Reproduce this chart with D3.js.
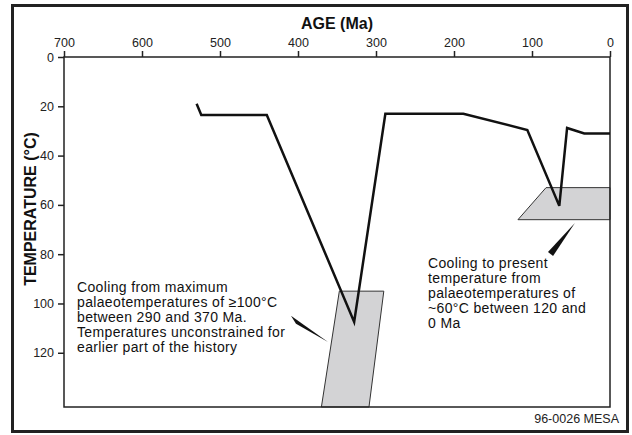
<!DOCTYPE html>
<html>
<head>
<meta charset="utf-8">
<script src="https://cdn.jsdelivr.net/npm/d3@7"></script>
<style>
  body { margin: 0; background: #fff; }
  svg { display: block; font-family: "Liberation Sans", Arial, sans-serif; }
  .tick-label { font-size: 12.5px; fill: #222; }
  .axis-title { font-size: 16px; font-weight: bold; fill: #111; }
  .note { font-size: 14px; letter-spacing: 0.35px; fill: #111; }
</style>
</head>
<body>
<div id="chart"></div>
<script>
var width = 632,
    height = 435;

// plot area
var margin = {top: 57, right: 22, bottom: 28, left: 64};

// data
var ageTicks = [700, 600, 500, 400, 300, 200, 100, 0];
var tempTicks = [0, 20, 40, 60, 80, 100, 120];

// thermal history path (age Ma, temperature C)
var pathAge  = [530, 524, 440, 328, 288, 188, 106, 65, 55, 33, 0];
var pathTemp = [19, 23.5, 23.5, 107.5, 23, 23, 29.6, 60.4, 28.8, 31, 31];

// constraint boxes
var boxOldAge  = [347, 290, 309, 370];
var boxOldTemp = [95, 95, 142, 142];
var boxNewAge  = [82, 0, 0, 118];
var boxNewTemp = [53, 53, 66, 66];

// callout wedges
var wedgeOldAge  = [409, 402.6, 361.5];
var wedgeOldTemp = [105, 108.2, 115.6];
var wedgeNewAge  = [79.5, 73, 45];
var wedgeNewTemp = [79.1, 80.7, 67.3];

var noteOld = ["Cooling from maximum",
               "palaeotemperatures of \u2265100\u00B0C",
               "between 290 and 370 Ma.",
               "Temperatures unconstrained for",
               "earlier part of the history"];
var noteNew = ["Cooling to present",
               "temperature from",
               "palaeotemperatures of",
               "~60\u00B0C between 120 and",
               "0 Ma"];

var svg = d3.select("#chart").append("svg")
  .attr("width", width)
  .attr("height", height);

//outer frame
svg.append("rect")
  .attr("x", 12.5).attr("y", 5.5)
  .attr("width", 615).attr("height", 426)
  .attr("fill", "none")
  .attr("stroke", "#222")
  .attr("stroke-width", 3);

var x = d3.scaleLinear()
  .domain([700, 0])
  .range([margin.left, width - margin.right]);
var y = d3.scaleLinear()
  .domain([0, 142])
  .range([margin.top, height - margin.bottom]);

function pts(ages, temps) {
  return ages.map(function(a, i) { return [x(a), y(temps[i])]; });
}

//grey constraint boxes
[[boxOldAge, boxOldTemp], [boxNewAge, boxNewTemp]].forEach(function(b) {
  svg.append("polygon")
    .attr("points", pts(b[0], b[1]).join(" "))
    .attr("fill", "#d3d3d5")
    .attr("stroke", "#333")
    .attr("stroke-width", 1);
});

//wedges
[[wedgeOldAge, wedgeOldTemp], [wedgeNewAge, wedgeNewTemp]].forEach(function(w) {
  svg.append("polygon")
    .attr("points", pts(w[0], w[1]).join(" "))
    .attr("fill", "#111");
});

//plot box
svg.append("rect")
  .attr("x", x(700)).attr("y", y(0))
  .attr("width", x(0) - x(700)).attr("height", y(142) - y(0))
  .attr("fill", "none")
  .attr("stroke", "#222")
  .attr("stroke-width", 1.5);

//axes
var xAxis = svg.append("g")
  .attr("transform", "translate(0," + y(0) + ")")
  .call(d3.axisTop(x).tickValues(ageTicks).tickSize(6).tickPadding(4));
var yAxis = svg.append("g")
  .attr("transform", "translate(" + x(700) + ",0)")
  .call(d3.axisLeft(y).tickValues(tempTicks).tickSize(6).tickPadding(4));
[xAxis, yAxis].forEach(function(a) {
  a.select(".domain").remove();
  a.selectAll("line").attr("stroke", "#222").attr("stroke-width", 1.5);
  a.selectAll("text").attr("class", "tick-label")
    .style("font-family", "Liberation Sans, Arial, sans-serif");
});

//thermal history line
svg.append("path")
  .datum(pts(pathAge, pathTemp))
  .attr("d", d3.line())
  .attr("fill", "none")
  .attr("stroke", "#111")
  .attr("stroke-width", 2.5)
  .attr("stroke-linejoin", "miter");

//titles
svg.append("text")
  .attr("class", "axis-title")
  .attr("text-anchor", "middle")
  .attr("x", (x(700) + x(0)) / 2)
  .attr("y", 29)
  .text("AGE (Ma)");
svg.append("text")
  .attr("class", "axis-title")
  .attr("text-anchor", "middle")
  .attr("transform", "translate(36," + 209 + ") rotate(-90)")
  .text("TEMPERATURE (\u00B0C)");

//notes
function note(lines, tx, ty) {
  var t = svg.append("text").attr("class", "note");
  lines.forEach(function(s, i) {
    t.append("tspan").attr("x", tx).attr("y", ty + i * 15).text(s);
  });
}
note(noteOld, 77, 292);
note(noteNew, 428, 268);

svg.append("text")
  .attr("class", "tick-label")
  .attr("text-anchor", "end")
  .attr("x", 619)
  .attr("y", 423)
  .text("96-0026 MESA");
</script>
</body>
</html>
